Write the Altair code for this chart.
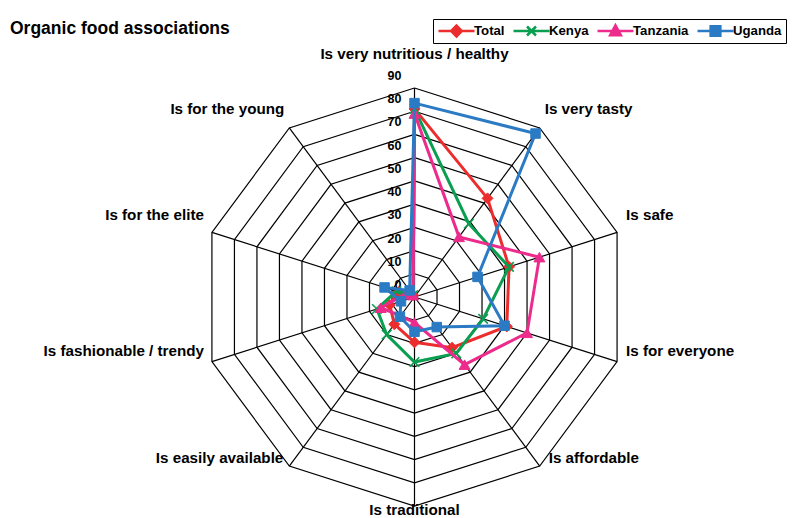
import altair as alt
import pandas as pd

FONT = "Liberation Sans"

title_text = "Organic food associations"
attributes = ["Is very nutritious / healthy", "Is very tasty", "Is safe", "Is for everyone",
              "Is affordable", "Is traditional", "Is easily available",
              "Is fashionable / trendy", "Is for the elite", "Is for the young"]
series = ["Total", "Kenya", "Tanzania", "Uganda"]
total = [81, 52.5, 42, 41, 27, 19.5, 14.5, 11, 7, 1]
kenya = [81, 39, 42, 30.5, 30, 28, 20, 16.7, 8, 1]
tanzania = [79, 32, 55.5, 50, 36, 11, 10, 15, 4, 1]
uganda = [83.5, 87, 28, 40, 16, 15, 10.5, 6, 13.3, 3.5]
ticks = [0, 10, 20, 30, 40, 50, 60, 70, 80, 90]

colors = ["#ec2d2d", "#0a9e50", "#ec2b8c", "#2b7bc4"]
n = len(attributes)
rmax = ticks[-1]

rows = []
for s, vals in zip(series, [total, kenya, tanzania, uganda]):
    for k in range(n + 1):
        rows.append({"series": s, "k": k, "value": vals[k % n]})
df = pd.DataFrame(rows)

grid_rows = [{"level": lv, "k": k, "value": lv} for lv in ticks[1:] for k in range(n + 1)]
grid_df = pd.DataFrame(grid_rows)
spoke_df = pd.DataFrame({"k": list(range(n)), "value": [rmax] * n})
tick_df = pd.DataFrame({"value": ticks, "k": [0] * len(ticks)})
label_df = pd.DataFrame({"name": attributes, "k": list(range(n)), "value": [rmax] * n})

px = f"datum.value * sin(datum.k * 2 * PI / {n})"
py = f"datum.value * cos(datum.k * 2 * PI / {n})"

xs = alt.Scale(domain=[-rmax, rmax], nice=False, zero=False)
ys = alt.Scale(domain=[-rmax, rmax], nice=False, zero=False)
X = alt.X("px:Q", scale=xs, axis=None)
Y = alt.Y("py:Q", scale=ys, axis=None)

rings = alt.Chart(grid_df).transform_calculate(px=px, py=py).mark_line(
    color="black", strokeWidth=1.2).encode(x=X, y=Y, detail="level:N", order="k:Q")

spokes = alt.Chart(spoke_df).transform_calculate(px=px, py=py, x0="0", y0="0").mark_rule(
    color="black", strokeWidth=1.2).encode(
    x=alt.X("x0:Q", scale=xs, axis=None), y=alt.Y("y0:Q", scale=ys, axis=None),
    x2="px:Q", y2="py:Q")

tick_text = alt.Chart(tick_df).transform_calculate(px=px, py=py).mark_text(
    align="right", baseline="middle", dx=-13, dy=-12, font=FONT, fontSize=12.5,
    fontWeight="bold", color="black").encode(x=X, y=Y, text="value:Q")

fill_scale = alt.Scale(domain=series, range=colors)
stroke_scale = alt.Scale(domain=series, range=colors)

shape_expr = ("datum.value === 'Total' ? 'M-1,0H1M0,-0.3L0.3,0L0,0.3L-0.3,0Z' : "
              "datum.value === 'Kenya' ? 'M-1,0H1M-0.25,-0.25L0.25,0.25M-0.25,0.25L0.25,-0.25' : "
              "datum.value === 'Tanzania' ? 'M-1,0H1M0,-0.32L0.3,0.24L-0.3,0.24Z' : "
              "'M-1,0H1M-0.27,-0.27H0.27V0.27H-0.27Z'")

legend = alt.Legend(
    orient="none", legendX=231.5, legendY=-69, direction="horizontal", columns=4,
    title=None, symbolSize=1296, clipHeight=16, labelOffset={"expr": "-2"}, columnPadding=7,
    padding=4, strokeColor="black", labelFont=FONT, labelFontSize=13.2,
    labelFontWeight="bold", labelColor="black", symbolStrokeWidth=2.5,
    symbolType={"expr": shape_expr},
)

legend_layer = alt.Chart(df).transform_filter("false").transform_calculate(px=px, py=py).mark_point(
    opacity=1).encode(
    x=X, y=Y,
    fill=alt.Fill("series:N", scale=fill_scale, legend=legend),
    stroke=alt.Stroke("series:N", scale=stroke_scale, legend=legend))

shapes = ["diamond", "M-1,-1L1,1M-1,1L1,-1", "triangle-up", "square"]
sizes = [120, 90, 120, 90]

data_layers = []
for i, s in enumerate(series):
    base = alt.Chart(df).transform_filter(alt.datum.series == s).transform_calculate(px=px, py=py)
    line = base.mark_line(color=colors[i], strokeWidth=3).encode(x=X, y=Y, order="k:Q")
    pts = base.transform_filter(alt.datum.k < n).mark_point(
        shape=shapes[i], size=sizes[i], opacity=1,
        strokeWidth=1.6 if s == "Kenya" else 1).encode(
        x=X, y=Y,
        fill=alt.Fill("series:N", scale=fill_scale, legend=legend),
        stroke=alt.Stroke("series:N", scale=stroke_scale, legend=legend))
    data_layers += [line, pts]

layout = {
    0: ("center", 0, -34),
    1: ("left", 5, -19),
    2: ("left", 9, -17),
    3: ("left", 9, -11),
    4: ("left", 9, -8),
    5: ("center", 0, 4),
    6: ("right", -6, -8),
    7: ("right", -8, -11),
    8: ("right", -8, -17),
    9: ("right", -5, -19),
}
label_layers = []
for k in range(n):
    al, dx, dy = layout[k]
    label_layers.append(
        alt.Chart(label_df).transform_filter(alt.datum.k == k).transform_calculate(px=px, py=py)
        .mark_text(align=al, baseline="middle", dx=dx, dy=dy, font=FONT, fontSize=15.2,
                   fontWeight="bold", color="black")
        .encode(x=X, y=Y, text="name:N"))

title = alt.Chart(pd.DataFrame({"t": [title_text]})).mark_text(
    align="left", baseline="middle", font=FONT, fontSize=17.5, fontWeight="bold",
    color="black").encode(x=alt.value(-191.5), y=alt.value(-59), text="t:N")

chart = alt.layer(rings, spokes, tick_text, legend_layer, *data_layers, *label_layers, title).properties(
    width=426, height=418,
    autosize=alt.AutoSizeParams(type="none"),
    padding={"left": 193.5, "top": 80, "right": 159.5, "bottom": 12},
).configure_view(stroke=None)

chart.save("out.html", embed_options={"renderer": "svg", "actions": False})
